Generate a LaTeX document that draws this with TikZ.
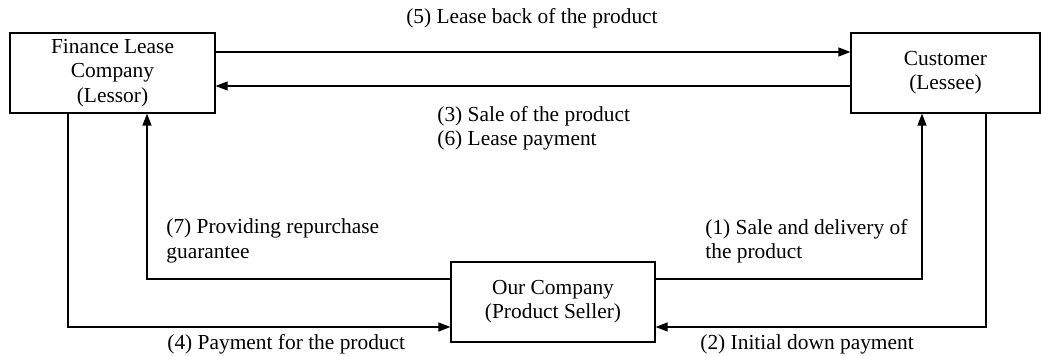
\documentclass[tikz,border=0pt]{standalone}
\usepackage{fontspec}
\setmainfont{Liberation Serif}
\usetikzlibrary{arrows.meta}
\begin{document}
\begin{tikzpicture}[x=0.5pt,y=-0.5pt,
  every node/.style={font=\fontsize{10.7pt}{12.2pt}\selectfont},
  box/.style={draw,line width=0.6pt,inner sep=0pt,align=center},
  flow/.style={line width=0.6pt,-{Triangle[length=6pt,width=4.5pt]}},
  lbl/.style={inner sep=0pt,align=left,anchor=west}]
\useasboundingbox (0,0) rectangle (1041,356);
\node[box,minimum width=102.5pt,minimum height=40pt] (lessor) at (112.5,73) {Finance Lease\\Company\\(Lessor)};
\node[box,minimum width=94.5pt,minimum height=40pt] (lessee) at (945.5,73) {Customer\\(Lessee)};
\node[box,minimum width=102pt,minimum height=40pt] (seller) at (553,302) {Our Company\\(Product Seller)};
\draw[flow] (lessor.east |- 0,52) -- (lessee.west |- 0,52);
\draw[flow] (lessee.west |- 0,86) -- (lessor.east |- 0,86);
\draw[flow] (lessor.south -| 68,0) -- (68,327) -- (seller.west |- 0,327);
\draw[flow] (seller.west |- 0,279) -- (147,279) -- (lessor.south -| 147,0);
\draw[flow] (seller.east |- 0,279) -- (922,279) -- (lessee.south -| 922,0);
\draw[flow] (lessee.south -| 986,0) -- (986,327) -- (seller.east |- 0,327);
\node (l5) at (532,18) {(5) Lease back of the product};
\node[lbl] (l36) at (437,128) {(3) Sale of the product\\(6) Lease payment};
\node[lbl] (l7) at (166,241) {(7) Providing repurchase\\guarantee};
\node[lbl] (l1) at (705,241) {(1) Sale and delivery of\\the product};
\node[lbl] (l4) at (167,344) {(4) Payment for the product};
\node[lbl] (l2) at (700,344) {(2) Initial down payment};
\end{tikzpicture}
\end{document}
